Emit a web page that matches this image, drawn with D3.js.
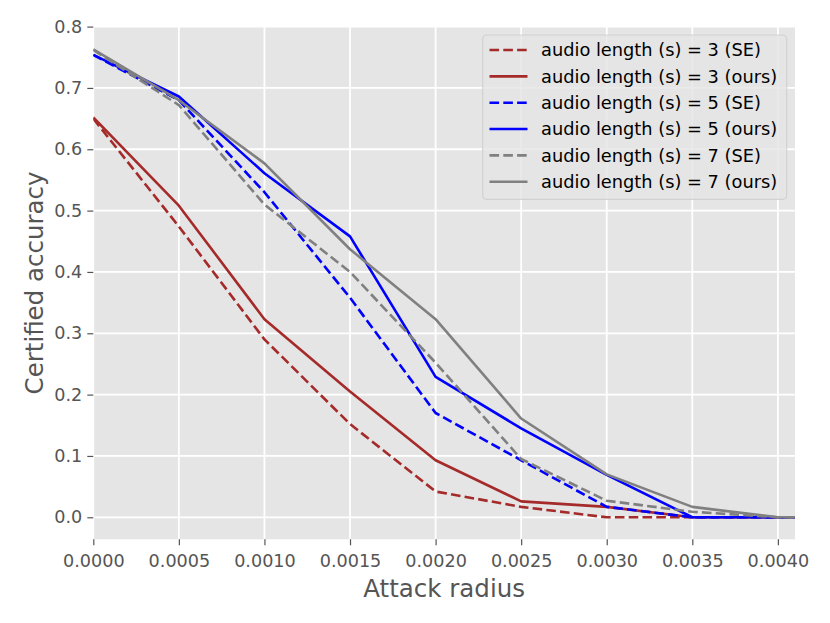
<!DOCTYPE html>
<html>
<head>
<meta charset="utf-8">
<script src="https://cdn.jsdelivr.net/npm/d3@7"></script>
<style>
  body { margin: 0; background: #fff; }
  svg text { font-family: "DejaVu Sans", sans-serif; }
</style>
</head>
<body>
<svg id="chart" width="830" height="623"></svg>
<script>
// attack radius on x
var radius = [0, 0.0005, 0.0010, 0.0015, 0.0020, 0.0025, 0.0030, 0.0035, 0.0040, 0.0045];

// certified accuracy per audio length, SE vs ours
var se3   = [0.650, 0.474, 0.290, 0.152, 0.042, 0.017, 0.000, 0.000, 0.000, 0.000];
var ours3 = [0.652, 0.508, 0.323, 0.205, 0.093, 0.026, 0.017, 0.000, 0.000, 0.000];
var se5   = [0.754, 0.680, 0.530, 0.358, 0.170, 0.093, 0.017, 0.000, 0.000, 0.000];
var ours5 = [0.754, 0.686, 0.561, 0.458, 0.229, 0.145, 0.069, 0.000, 0.000, 0.000];
var se7   = [0.762, 0.672, 0.510, 0.400, 0.252, 0.095, 0.027, 0.009, 0.000, 0.000];
var ours7 = [0.763, 0.680, 0.577, 0.437, 0.323, 0.161, 0.070, 0.017, 0.000, 0.000];

var seriesNames = [
    "audio length (s) = 3 (SE)", "audio length (s) = 3 (ours)",
    "audio length (s) = 5 (SE)", "audio length (s) = 5 (ours)",
    "audio length (s) = 7 (SE)", "audio length (s) = 7 (ours)"
];
var seriesValues = [se3, ours3, se5, ours5, se7, ours7];
var seriesColors = ["#a52a2a", "#a52a2a", "#0000ff", "#0000ff", "#808080", "#808080"];
var seriesDashed = [true, false, true, false, true, false];

var xTicks = [0, 0.0005, 0.0010, 0.0015, 0.0020, 0.0025, 0.0030, 0.0035, 0.0040];
var yTicks = [0.0, 0.1, 0.2, 0.3, 0.4, 0.5, 0.6, 0.7, 0.8];

var svg = d3.select("#chart");

// plot box (matplotlib ggplot style)
var L = 93.3, R = 795, T = 26.6, B = 539.3;
var x = d3.scaleLinear().domain([0, 0.0041]).range([L, R]);
var y = d3.scaleLinear().domain([-0.0359, 0.8]).range([B, T]);

svg.append("rect")
    .attr("x", L).attr("y", T)
    .attr("width", R - L).attr("height", B - T)
    .attr("fill", "#e5e5e5");

svg.append("defs").append("clipPath").attr("id", "clip")
    .append("rect")
    .attr("x", L).attr("y", T)
    .attr("width", R - L).attr("height", B - T);

// white grid
var grid = svg.append("g");
grid.selectAll(".gx").data(xTicks).enter().append("line")
    .attr("x1", function(d){return x(d);}).attr("x2", function(d){return x(d);})
    .attr("y1", T).attr("y2", B)
    .attr("stroke", "#fff").attr("stroke-width", 1.8);
grid.selectAll(".gy").data(yTicks).enter().append("line")
    .attr("x1", L).attr("x2", R)
    .attr("y1", function(d){return y(d);}).attr("y2", function(d){return y(d);})
    .attr("stroke", "#fff").attr("stroke-width", 1.8);

// axes
var xAxis = d3.axisBottom(x).tickValues(xTicks).tickFormat(d3.format(".4f"))
    .tickSize(6).tickPadding(5);
var yAxis = d3.axisLeft(y).tickValues(yTicks).tickFormat(d3.format(".1f"))
    .tickSize(6).tickPadding(5);

var gx = svg.append("g").attr("transform", "translate(0," + B + ")").call(xAxis);
var gy = svg.append("g").attr("transform", "translate(" + L + ",0)").call(yAxis);

[gx, gy].forEach(function(g){
    g.select(".domain").remove();
    g.selectAll(".tick line").attr("stroke", "#555555").attr("stroke-width", 1.2);
    g.selectAll(".tick text")
	.attr("fill", "#555555")
	.style("font-size", "17.6px")
	.style("font-family", "DejaVu Sans, sans-serif");
});
gx.selectAll(".tick text").attr("dy", "0.95em");

// axis labels
svg.append("text")
    .attr("x", (L + R) / 2).attr("y", 597.3)
    .attr("text-anchor", "middle")
    .attr("fill", "#555555")
    .style("font-size", "24.5px")
    .text("Attack radius");

svg.append("text")
    .attr("transform", "translate(42.5," + ((T + B) / 2) + ") rotate(-90)")
    .attr("text-anchor", "middle")
    .attr("fill", "#555555")
    .style("font-size", "24.5px")
    .text("Certified accuracy");

// the lines
var lw = 2.6;
var line = d3.line()
    .x(function(d, i){return x(radius[i]);})
    .y(function(d){return y(d);});

var plot = svg.append("g").attr("clip-path", "url(#clip)");
seriesValues.forEach(function(vals, k){
    plot.append("path")
	.datum(vals)
	.attr("d", line)
	.attr("fill", "none")
	.attr("stroke", seriesColors[k])
	.attr("stroke-width", lw)
	.attr("stroke-linejoin", "round")
	.attr("stroke-dasharray", seriesDashed[k] ? "9.6,4.2" : null);
});

// legend box, top right
var lg = svg.append("g");
lg.append("rect")
    .attr("x", 482.7).attr("y", 35)
    .attr("width", 304).attr("height", 164.3)
    .attr("rx", 4)
    .attr("fill", "#e5e5e5").attr("fill-opacity", 0.8)
    .attr("stroke", "#cccccc").attr("stroke-opacity", 0.8).attr("stroke-width", 1.2);

var row = lg.selectAll(".row").data(seriesNames).enter().append("g")
    .attr("transform", function(d, i){return "translate(0," + (50 + i * 26.35) + ")";});

row.append("line")
    .attr("x1", 489.5).attr("x2", 527.5)
    .attr("y1", 0).attr("y2", 0)
    .attr("stroke", function(d, i){return seriesColors[i];})
    .attr("stroke-width", lw)
    .attr("stroke-dasharray", function(d, i){return seriesDashed[i] ? "9.6,4.2" : null;});

row.append("text")
    .attr("x", 541).attr("y", 0)
    .attr("dy", "0.36em")
    .attr("fill", "#000")
    .style("font-size", "17.8px")
    .text(function(d){return d;});
</script>
</body>
</html>
